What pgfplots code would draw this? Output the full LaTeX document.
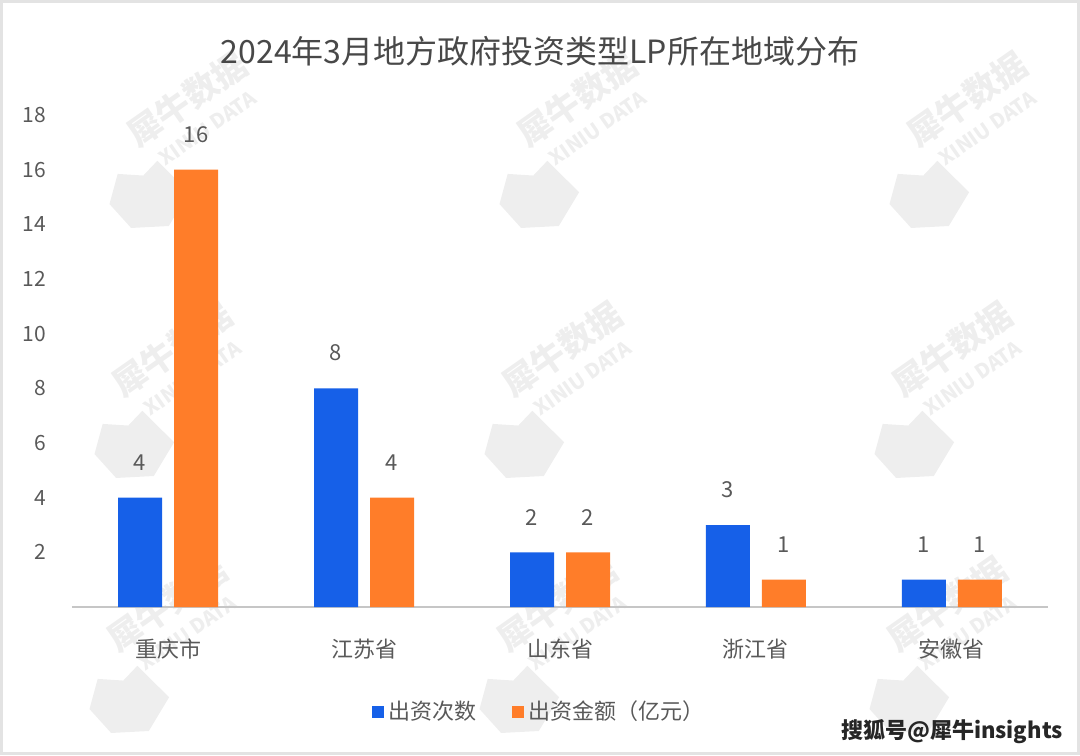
\documentclass[border=0pt]{standalone}
\usepackage{fontspec}
\setmainfont{Noto Sans CJK SC}
\usepackage{pgfplots}
\pgfplotsset{compat=1.18}
\definecolor{cblue}{HTML}{1660E8}
\definecolor{corange}{HTML}{FF7D29}
\definecolor{txt}{HTML}{595959}
\definecolor{wm}{HTML}{EEEEEE}
\begin{document}
\begin{tikzpicture}
% faint watermarks (background)
\foreach \px/\py in {195/110, 585/110, 975/110, 180/360, 570/360, 960/360, 175/615, 565/615, 955/615}{
  \begin{scope}[shift={({(\px-72)/2*1pt},{(607-\py)/2*1pt})}]
    \fill[wm, rotate=35] (-62pt,-14pt) -- (-50pt,-4pt) -- (-40pt,-12pt) -- (-30pt,-10pt) -- (-26pt,-32pt) -- (-44pt,-40pt) -- (-60pt,-30pt) -- cycle;
    \node[rotate=35, text=wm, font=\bfseries\fontsize{17}{18}\selectfont, align=center, inner sep=0pt]
      {犀牛数据\\[-3pt]{\fontsize{10}{11}\selectfont XINIU DATA}};
  \end{scope}
}
\begin{axis}[
  at={(0,0)}, anchor=south west,
  scale only axis, width=488pt, height=246pt,
  ybar=6pt, bar width=22pt,
  ymin=0, ymax=18, xmin=-0.49, xmax=4.49,
  ytick={2,4,...,18}, xtick={0,...,4},
  xticklabels={重庆市,江苏省,山东省,浙江省,安徽省},
  axis x line*=bottom, axis y line*=left,
  x axis line style={draw=gray!45, line width=0.6pt, -},
  y axis line style={draw=none},
  major tick length=0pt,
  /pgf/number format/assume math mode=true,
  yticklabel style={font=\fontsize{10.5}{12}\selectfont, text=txt, xshift=-9.5pt},
  xticklabel style={font=\fontsize{11}{13}\selectfont, text=txt, yshift=-12.5pt},
  nodes near coords,
  every node near coord/.append style={font=\fontsize{11}{13}\selectfont, text=txt, yshift=10pt},
  title={2024年3月地方政府投资类型LP所在地域分布},
  title style={at={(0.4795,1)}, anchor=center, yshift=26pt, font=\fontsize{16}{18}\selectfont, text=txt!110},
  legend style={at={(0.4795,-0.213)}, anchor=center, draw=none, fill=none, legend columns=2,
    font=\fontsize{11}{13}\selectfont, text=txt,
    /tikz/every even column/.append style={column sep=16pt}},
  legend image code/.code={\fill[#1] (0pt,-3pt) rectangle (6pt,3pt);},
]
\addplot[fill=cblue, draw=none] coordinates {(0,4) (1,8) (2,2) (3,3) (4,1)};
\addplot[fill=corange, draw=none] coordinates {(0,16) (1,4) (2,2) (3,1) (4,1)};
\legend{出资次数,出资金额（亿元）}
\end{axis}
\node[font=\bfseries\fontsize{11}{13}\selectfont, text=black!85] at (440pt,-62.5pt) {搜狐号@犀牛insights};
\draw[gray!22, line width=1.5pt] (-35.25pt,-73.25pt) rectangle (503.25pt,302.75pt);
\pgfresetboundingbox
\useasboundingbox (-36pt,-74pt) rectangle (504pt,303.5pt);
\end{tikzpicture}
\end{document}
